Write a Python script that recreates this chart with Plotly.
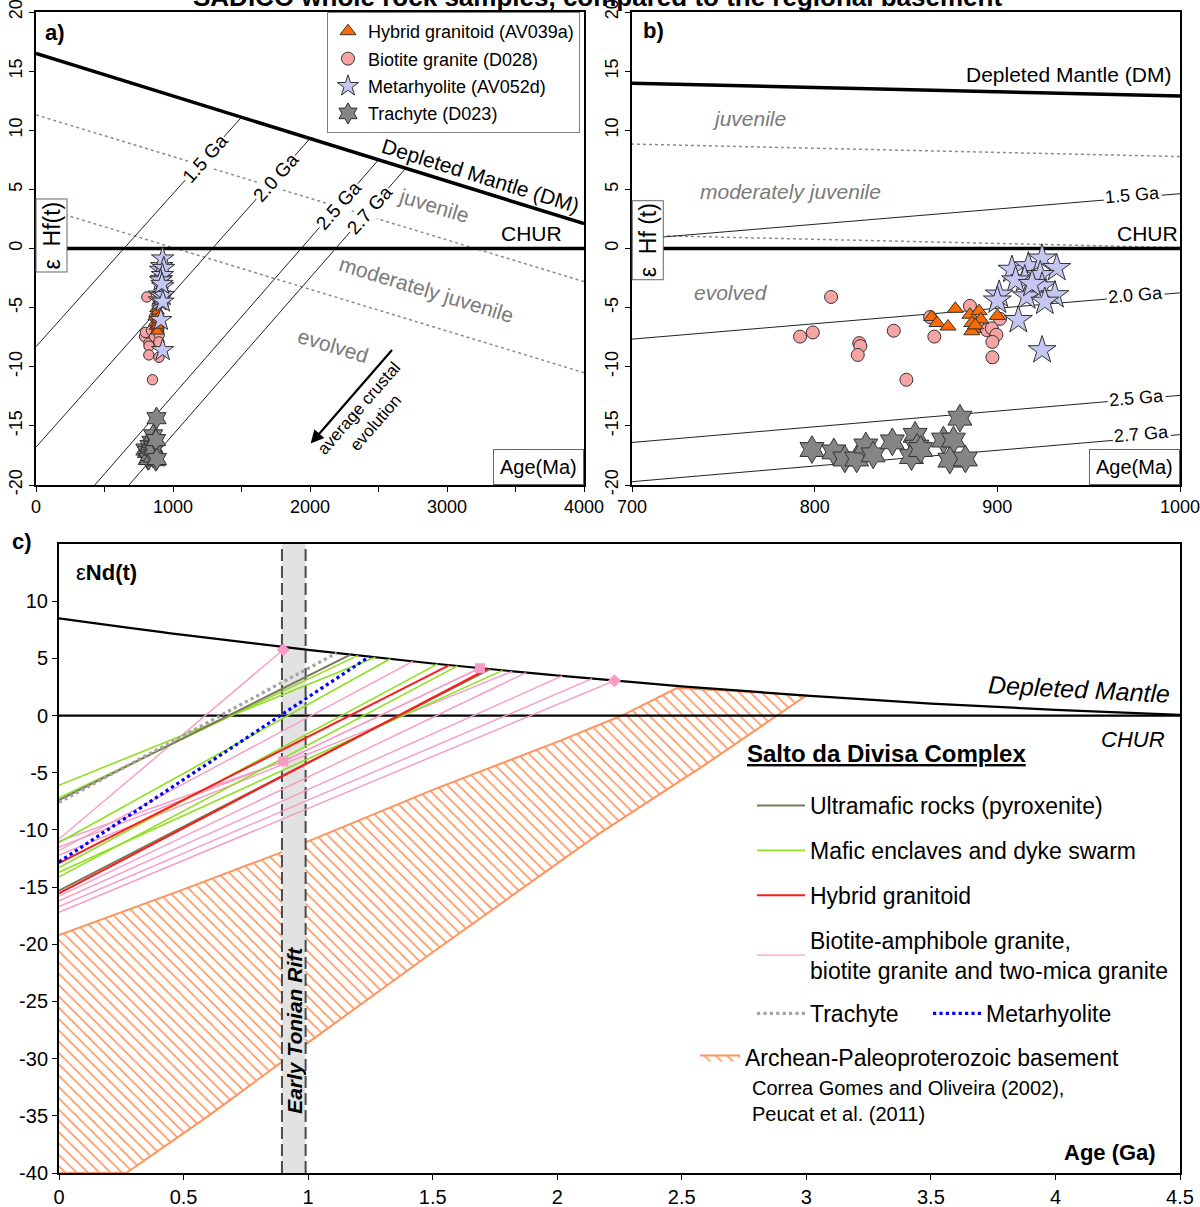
import plotly.graph_objects as go

FONT = "Liberation Sans, Arial, sans-serif"

# ---------------- Lu-Hf zircon data: age (Ma) and epsilon Hf(t) ----------------
hyb_age = [864, 867, 873, 877, 885, 886, 887, 886, 890, 891, 888, 900]
hyb_ehf = [-5.8, -6.3, -6.6, -5.1, -5.6, -6.3, -6.8, -7.0, -5.3, -6.0, -6.5, -5.7]

bio_age = [809, 792, 799, 824.4, 825, 823.6, 843.3, 850.2, 865.5, 863.2, 885, 889,
           894.2, 897, 899.5, 897.3, 897.3, 901.5]
bio_ehf = [-4.1, -7.45, -7.1, -8.0, -8.25, -9.0, -6.95, -11.1, -7.45, -5.8, -4.85, -6.35,
           -6.9, -6.75, -7.3, -7.9, -9.2, -5.95]

met_age = [908, 917, 924.5, 932.5, 915, 923.5, 910, 924.5, 901, 900, 916, 931.5,
           926, 919, 911.5, 924.5]
met_ehf = [-1.8, -1.5, -0.85, -1.65, -2.6, -2.25, -2.7, -3.2, -3.9, -4.4, -4.05, -3.95,
           -4.5, -3.0, -6.05, -8.6]

tra_age = [798.5, 810.5, 816.5, 823, 828, 832, 842.5, 855, 856, 853, 858, 870.5,
           876, 879.5, 874, 882.5]
tra_ehf = [-17.0, -17.2, -17.8, -17.8, -16.7, -17.45, -16.35, -15.8, -16.8, -17.6, -17.0,
           -16.2, -16.2, -14.35, -17.9, -17.8]

# Hf reference lines (age in Ma)
hf_ref_age = [0, 4000]
hf_dm = [16.5, 2.1]
hf_chur = [0, 0]
hf_juv_limit = [11.3, -2.8]
hf_modjuv_limit = [3.6, -10.5]

crust_names = ["1.5 Ga", "2.0 Ga", "2.5 Ga", "2.7 Ga"]
crust_e0 = [-8.3, -16.8, -25.7, -29.0]
crust_tdm = [1500, 2000, 2500, 2700]
crust_edm = [11.1, 9.3, 7.5, 6.8]

hf_ticks = [-20, -15, -10, -5, 0, 5, 10, 15, 20]

# ---------------- Sm-Nd whole rock data (age in Ga) ----------------
dm_nd_age = [0, 0.5, 1.0, 1.5, 2.0, 2.5, 3.0, 3.5, 4.0, 4.5]
dm_nd_eps = [8.5, 7.05, 5.75, 4.55, 3.5, 2.55, 1.75, 1.05, 0.5, 0.05]

ultra_e0 = [-7.4, -15.3]
ultra_tdm = [1.17, 1.73]
ultra_edm = [5.33, 4.05]

mafic_e0 = [-6.1, -7.2, -11.1, -13.3, -13.7, -14.1]
mafic_tdm = [1.27, 1.20, 1.33, 1.52, 1.78, 1.60]
mafic_edm = [5.09, 5.26, 4.96, 4.52, 3.95, 4.34]

hybrid_e0 = [-12.9, -15.55]
hybrid_tdm = [1.567, 1.72]
hybrid_edm = [4.41, 4.08]

trach_e0 = [-7.6]
trach_tdm = [1.115]
trach_edm = [5.47]

metarhy_e0 = [-12.8]
metarhy_tdm = [1.246]
metarhy_edm = [5.15]

granite_e0 = [-11.8, -12.2, -15.8, -16.2, -16.7, -17.2]
granite_tdm = [1.42, 1.82, 1.875, 2.02, 2.14, 2.23]
granite_edm = [4.74, 3.87, 3.75, 3.46, 3.22, 3.05]

# two-stage granite evolution through the crystallisation point
granite2_e0 = [-10.8, -11.0, -11.5]
granite2_t = [0.9, 0.9, 0.9]
granite2_et = [5.75, -4.0, -4.0]
granite2_tdm = [0.9, 1.69, 1.69]
granite2_edm = [5.75, 4.14, 4.14]

pink_diamond_age = [0.9, 2.23]
pink_diamond_eps = [5.75, 3.05]
pink_square_age = [0.9, 1.69]
pink_square_eps = [-4.0, 4.14]

base_upper_age = [0, 0.5, 0.9, 1.0, 1.5, 2.0, 2.26, 2.48, 2.75, 3.0]
base_upper_eps = [-19.2, -15.2, -11.9, -11.0, -6.5, -2.3, 0.0, 2.4, 2.1, 1.75]
base_lower_age = [3.0, 2.6, 2.17, 1.5, 1.0, 0.9, 0.6, 0.27, 0]
base_lower_eps = [1.75, -4.2, -10.3, -20.7, -28.6, -30.2, -35.0, -40.0, -40.0]

tonian_band = [0.895, 0.99]

nd_ticks = [-40, -35, -30, -25, -20, -15, -10, -5, 0, 5, 10]

# colours
C_HYB = "#ff6a00"
C_BIO = "#f6a3a3"
C_MET = "#c6c6f3"
C_TRA = "#858585"
C_ULTRA = "#7d7659"
C_MAFIC = "#8ee01e"
C_RED = "#ff1a1a"
C_PINK = "#f79ac6"
C_GRAYDOT = "#a3a3a3"
C_BLUE = "#0000ff"
C_BASE = "#ff945e"
C_TXT_GRAY = "#7a7a7a"

fig = go.Figure()


def segments(x0, y0, x1, y1):
    xs, ys = [], []
    for a, b, c, d in zip(x0, y0, x1, y1):
        xs += [a, c, None]
        ys += [b, d, None]
    return xs, ys


def hf_panel(xa, ya, big):
    common = dict(xaxis=xa, yaxis=ya, hoverinfo="skip", showlegend=False)
    fig.add_trace(go.Scatter(x=hf_ref_age, y=hf_juv_limit, mode="lines",
                             line=dict(color="#8c8c8c", width=1.5, dash="dot"), **common))
    fig.add_trace(go.Scatter(x=hf_ref_age, y=hf_modjuv_limit, mode="lines",
                             line=dict(color="#8c8c8c", width=1.5, dash="dot"), **common))
    cx, cy = segments([0] * 4, crust_e0, crust_tdm, crust_edm)
    fig.add_trace(go.Scatter(x=cx, y=cy, mode="lines",
                             line=dict(color="#222", width=1), **common))
    fig.add_trace(go.Scatter(x=hf_ref_age, y=hf_dm, mode="lines",
                             line=dict(color="black", width=3.5), **common))
    fig.add_trace(go.Scatter(x=hf_ref_age, y=hf_chur, mode="lines",
                             line=dict(color="black", width=3.5), **common))

    s = 1.0 if big else 0.8
    outline = dict(color="#333333", width=1)
    fig.add_trace(go.Scatter(x=bio_age, y=bio_ehf, mode="markers", name="Biotite granite (D028)",
                             marker=dict(symbol="circle", size=13 * s, color=C_BIO, line=outline),
                             xaxis=xa, yaxis=ya, showlegend=big, legendrank=2,
                             legendgroup="bio"))
    fig.add_trace(go.Scatter(x=hyb_age, y=hyb_ehf, mode="markers", name="Hybrid granitoid (AV039a)",
                             marker=dict(symbol="triangle-up", size=14 * s, color=C_HYB, line=outline),
                             xaxis=xa, yaxis=ya, showlegend=big, legendrank=1,
                             legendgroup="hyb"))
    fig.add_trace(go.Scatter(x=met_age, y=met_ehf, mode="markers", name="Metarhyolite (AV052d)",
                             marker=dict(symbol="star", size=21 * s, color=C_MET, line=outline),
                             xaxis=xa, yaxis=ya, showlegend=big, legendrank=3,
                             legendgroup="met"))
    fig.add_trace(go.Scatter(x=tra_age, y=tra_ehf, mode="markers", name="Trachyte (D023)",
                             marker=dict(symbol="hexagram", size=21 * s, color=C_TRA, line=outline),
                             xaxis=xa, yaxis=ya, showlegend=big, legendrank=4,
                             legendgroup="tra"))


hf_panel("x", "y", False)
hf_panel("x2", "y2", True)

# ---------------- panel c ----------------
cc = dict(xaxis="x3", yaxis="y3", hoverinfo="skip")
fig.add_trace(go.Scatter(
    x=base_upper_age + base_lower_age, y=base_upper_eps + base_lower_eps,
    mode="lines", fill="toself", fillcolor="rgba(255,255,255,0)",
    fillpattern=dict(shape="\\", fgcolor=C_BASE, size=8, solidity=0.2),
    line=dict(color=C_BASE, width=2),
    name="Archean-Paleoproterozoic basement", legend="legend4", showlegend=True, **cc))

fig.add_trace(go.Scatter(
    x=[tonian_band[0], tonian_band[1], tonian_band[1], tonian_band[0], tonian_band[0]],
    y=[-40, -40, 15, 15, -40], mode="lines", fill="toself", fillcolor="#e2e2e2",
    line=dict(width=0), showlegend=False, **cc))
for bx in tonian_band:
    fig.add_trace(go.Scatter(x=[bx, bx], y=[-40, 15], mode="lines",
                             line=dict(color="#4a4a4a", width=2, dash="12px,5px"),
                             showlegend=False, **cc))

fig.add_trace(go.Scatter(x=dm_nd_age, y=dm_nd_eps, mode="lines", line=dict(color="black", width=2.2),
                         line_shape="spline", showlegend=False, **cc))
fig.add_trace(go.Scatter(x=[0, 4.5], y=[0, 0], mode="lines", line=dict(color="black", width=2.2),
                         showlegend=False, **cc))

# granite lines
gx, gy = segments([0] * len(granite_e0), granite_e0, granite_tdm, granite_edm)
for a, b, t, et, td, ed in zip([0] * 3, granite2_e0, granite2_t, granite2_et, granite2_tdm, granite2_edm):
    gx += [a, t, td, None]
    gy += [b, et, ed, None]
fig.add_trace(go.Scatter(x=gx, y=gy, mode="lines", line=dict(color=C_PINK, width=1.4),
                         name="Biotite-amphibole granite,<br>biotite granite and two-mica granite",
                         legend="legend2", legendrank=4, legendgroup="g4", **cc))

mx, my = segments([0] * len(mafic_e0), mafic_e0, mafic_tdm, mafic_edm)
fig.add_trace(go.Scatter(x=mx, y=my, mode="lines", line=dict(color=C_MAFIC, width=1.6),
                         name="Mafic enclaves and dyke swarm", legend="legend2", legendrank=2,
                         legendgroup="g2", **cc))
ux, uy = segments([0] * len(ultra_e0), ultra_e0, ultra_tdm, ultra_edm)
fig.add_trace(go.Scatter(x=ux, y=uy, mode="lines", line=dict(color=C_ULTRA, width=2),
                         name="Ultramafic rocks (pyroxenite)", legend="legend2", legendrank=1,
                         legendgroup="g1", **cc))
rx, ry = segments([0] * len(hybrid_e0), hybrid_e0, hybrid_tdm, hybrid_edm)
fig.add_trace(go.Scatter(x=rx, y=ry, mode="lines", line=dict(color=C_RED, width=2),
                         name="Hybrid granitoid", legend="legend2", legendrank=3,
                         legendgroup="g3", **cc))
tx, ty = segments([0], trach_e0, trach_tdm, trach_edm)
fig.add_trace(go.Scatter(x=tx, y=ty, mode="lines", line=dict(color=C_GRAYDOT, width=3.2, dash="dot"),
                         name="Trachyte", legend="legend3", **cc))
bx_, by_ = segments([0], metarhy_e0, metarhy_tdm, metarhy_edm)
fig.add_trace(go.Scatter(x=bx_, y=by_, mode="lines", line=dict(color=C_BLUE, width=3.2, dash="dot"),
                         name="Metarhyolite", legend="legend5", **cc))

fig.add_trace(go.Scatter(x=pink_diamond_age, y=pink_diamond_eps, mode="markers",
                         marker=dict(symbol="diamond", size=10, color=C_PINK), showlegend=False, **cc))
fig.add_trace(go.Scatter(x=pink_square_age, y=pink_square_eps, mode="markers",
                         marker=dict(symbol="square", size=10, color=C_PINK), showlegend=False, **cc))

# ---------------- annotations ----------------
ann = []


def txt(text, x, y, xref, yref, size, color="black", angle=0, **kw):
    d = dict(text=text, x=x, y=y, xref=xref, yref=yref, showarrow=False,
             xanchor="center", yanchor="middle",
             font=dict(family=FONT, size=size, color=color), textangle=angle)
    d.update(kw)
    ann.append(d)


# title (partly above the page edge)
txt("<b>SADICO whole rock samples, compared to the regional basement</b>", 0.4975,
    1 + 3 / 1207, "paper", "paper", 26)

# panel a
txt("<b>a)</b>", 139, 18.3, "x", "y", 22)
txt("Depleted Mantle (DM)", 3241, 6.2, "x", "y", 21, angle=17.3)
txt("CHUR", 3617, 1.3, "x", "y", 21)
txt("juvenile", 2906, 3.66, "x", "y", 21, C_TXT_GRAY, 17)
txt("moderately juvenile", 2850, -3.5, "x", "y", 21, C_TXT_GRAY, 17)
txt("evolved", 2167, -8.2, "x", "y", 21, C_TXT_GRAY, 17)
for name, xa_, ya_ in zip(crust_names, [1233, 1749, 2209, 2432], [7.65, 6.02, 3.64, 3.23]):
    txt(name, xa_, ya_, "x", "y", 19, angle=-48.5, bgcolor="white", borderpad=0)
txt("ε  Hf(t)", 0, 1.1, "x", "y", 23, angle=-90, xanchor="left", bgcolor="white",
    bordercolor="#666", borderwidth=1, borderpad=2)
txt("Age(Ma)", 4000, -20, "x", "y", 20, xanchor="right", yanchor="bottom", bgcolor="white",
    bordercolor="#666", borderwidth=1, borderpad=6)
txt("average crustal<br>evolution", 2418, -14.1, "x", "y", 17, angle=-49)
ann.append(dict(x=2005, y=-16.5, ax=2608, ay=-8.45, xref="x", yref="y", axref="x", ayref="y",
                showarrow=True, arrowhead=2, arrowsize=1.2, arrowwidth=2.2, arrowcolor="black",
                text=""))

# panel b
txt("<b>b)</b>", 712, 18.4, "x2", "y2", 22)
txt("Depleted Mantle (DM)", 939, 14.7, "x2", "y2", 21)
txt("CHUR", 982, 1.3, "x2", "y2", 21)
txt("<i>juvenile</i>", 764, 11.0, "x2", "y2", 21, C_TXT_GRAY)
txt("<i>moderately juvenile</i>", 787, 4.8, "x2", "y2", 21, C_TXT_GRAY)
txt("<i>evolved</i>", 754, -3.75, "x2", "y2", 21, C_TXT_GRAY)
for name, xb_, yb_ in zip(crust_names, [974, 975.5, 976, 979], [4.55, -3.9, -12.6, -15.7]):
    txt(name, xb_, yb_, "x2", "y2", 18, angle=-4.8, bgcolor="white", borderpad=1)
txt("ε  Hf (t)", 700, 0.7, "x2", "y2", 23, angle=-90, xanchor="left", bgcolor="white",
    bordercolor="#666", borderwidth=1, borderpad=2)
txt("Age(Ma)", 1000, -20, "x2", "y2", 20, xanchor="right", yanchor="bottom", bgcolor="white",
    bordercolor="#666", borderwidth=1, borderpad=6)

# panel c
txt("<b>c)</b>", 22 / 1200, 1 - 541 / 1207, "paper", "paper", 22)
txt("ε<b>Nd(t)</b>", 0.06, 12.5, "x3", "y3", 22, xanchor="left")
txt("<b><i>Early Tonian Rift</i></b>", 0.9425, -27.5, "x3", "y3", 21, angle=-90)
txt("<i>Depleted Mantle</i>", 4.094, 2.3, "x3", "y3", 25, angle=3)
txt("<i>CHUR</i>", 4.31, -2.13, "x3", "y3", 22)
txt("<b>Age (Ga)</b>", 4.22, -38.2, "x3", "y3", 22)
ann.append(dict(text="<b>Salto da Divisa Complex</b>", x=745 / 1200, y=1 - 753 / 1207,
                xref="paper", yref="paper", showarrow=False, xanchor="left", yanchor="middle",
                font=dict(family=FONT, size=24, color="black", lineposition="under")))
txt("Correa Gomes and Oliveira (2002),<br>Peucat et al. (2011)", 750 / 1200, 1 - 1101 / 1207,
    "paper", "paper", 20, xanchor="left", align="left")

axis_common = dict(showline=True, linecolor="black", mirror=True, showgrid=False, zeroline=False,
                   ticks="outside", tickcolor="black", ticklen=5, automargin=False,
                   ticklabeloverflow="allow",
                   tickfont=dict(family=FONT, size=18, color="black"))
c_axis = {**axis_common, "tickfont": dict(family=FONT, size=20, color="black")}

ya_dom = [1 - 485 / 1207, 1 - 12 / 1207]
hf_ticktext = [str(v) for v in hf_ticks]
leg_c = dict(xanchor="left", yanchor="top", bgcolor="rgba(0,0,0,0)",
             font=dict(family=FONT, size=23), itemwidth=48)
fig.update_layout(
    template="none",
    width=1200, height=1207, margin=dict(l=0, r=0, t=0, b=0, autoexpand=False),
    paper_bgcolor="white", plot_bgcolor="white",
    font=dict(family=FONT, color="black"),
    xaxis=dict(domain=[36 / 1200, 584 / 1200], anchor="y", range=[0, 4000],
               tickvals=[0, 1000, 2000, 3000, 4000], linewidth=1.5,
               minor=dict(tickvals=[500, 1500, 2500, 3500], ticks="outside", ticklen=5,
                          tickcolor="black"), **axis_common),
    yaxis=dict(domain=ya_dom, anchor="x", range=[-20, 20], tickvals=hf_ticks,
               ticktext=hf_ticktext, tickangle=-90, linewidth=1.5, **axis_common),
    xaxis2=dict(domain=[632 / 1200, 1180 / 1200], anchor="y2", range=[700, 1000], dtick=100,
                linewidth=1.5, **axis_common),
    yaxis2=dict(domain=ya_dom, anchor="x2", range=[-20, 20], tickvals=hf_ticks,
                ticktext=hf_ticktext, tickangle=-90, linewidth=1.5, **axis_common),
    xaxis3=dict(domain=[59 / 1200, 1180 / 1200], anchor="y3", range=[0, 4.5], dtick=0.5,
                linewidth=2, **c_axis),
    yaxis3=dict(domain=[1 - 1173 / 1207, 1 - 544 / 1207], anchor="x3", range=[-40, 15],
                tickvals=nd_ticks, ticktext=[str(v) for v in nd_ticks], linewidth=2,
                **c_axis),
    legend=dict(x=327 / 1200, y=1 - 12 / 1207, xanchor="left", yanchor="top", bgcolor="white",
                bordercolor="#7f7f7f", borderwidth=1, font=dict(family=FONT, size=18),
                tracegroupgap=1, traceorder="grouped"),
    legend2=dict(x=752 / 1200, y=1 - 784 / 1207, tracegroupgap=12, traceorder="grouped", **leg_c),
    legend3=dict(x=752 / 1200, y=1 - 992 / 1207, **leg_c),
    legend5=dict(x=928 / 1200, y=1 - 992 / 1207, **leg_c),
    legend4=dict(x=695 / 1200, y=1 - 1036 / 1207, xanchor="left", yanchor="top",
                 bgcolor="rgba(0,0,0,0)", font=dict(family=FONT, size=23), itemwidth=40),
    annotations=ann,
)

fig.write_html("out.html", post_script="document.body.style.margin='0';")
